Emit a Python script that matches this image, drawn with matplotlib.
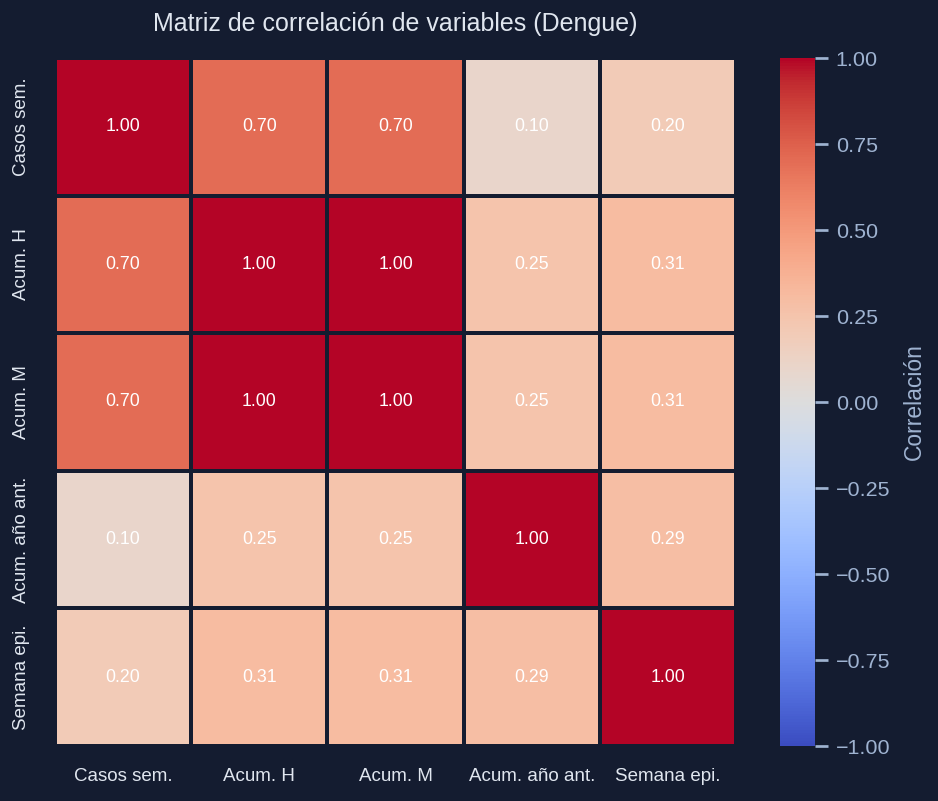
import numpy as np
import pandas as pd
import matplotlib
matplotlib.use("Agg")
import matplotlib.pyplot as plt
import seaborn as sns

labels = ["Casos sem.", "Acum. H", "Acum. M", "Acum. año ant.", "Semana epi."]
row_casos = [1.00, 0.70, 0.70, 0.10, 0.20]
row_acum_h = [0.70, 1.00, 1.00, 0.25, 0.31]
row_acum_m = [0.70, 1.00, 1.00, 0.25, 0.31]
row_acum_ant = [0.10, 0.25, 0.25, 1.00, 0.29]
row_semana = [0.20, 0.31, 0.31, 0.29, 1.00]

corr = pd.DataFrame([row_casos, row_acum_h, row_acum_m, row_acum_ant, row_semana],
                    index=labels, columns=labels)

bg = "#141c30"
txt = "#e0e6ef"
cbar_txt = "#9fb3d1"

plt.rcParams["font.family"] = ["Liberation Sans", "DejaVu Sans"]

dpi = 150
fig = plt.figure(figsize=(938 / dpi, 801 / dpi), dpi=dpi, facecolor=bg)
W, H = 938, 801
ax = fig.add_axes([55 / W, (H - 746) / H, 681 / W, 688 / H])
cax = fig.add_axes([780 / W, (H - 746) / H, 35 / W, 688 / H])
ax.set_facecolor(bg)

sns.heatmap(corr, ax=ax, cbar_ax=cax, cmap="coolwarm", vmin=-1, vmax=1,
            annot=True, fmt=".2f", annot_kws={"size": 8.5, "color": "white"},
            linewidths=1, linecolor=bg,
            cbar_kws={"label": "Correlación"})

ax.tick_params(axis="x", length=0, pad=10.5, labelsize=9, colors=txt, labelrotation=0)
ax.tick_params(axis="y", length=0, pad=12, labelsize=9, colors=txt, labelrotation=90)
for t in ax.get_yticklabels():
    t.set_va("center")

cax.tick_params(length=6, width=1.3, color=cbar_txt, labelcolor=cbar_txt,
                labelsize=10.3, pad=4)
cax.set_yticks([-1, -0.75, -0.5, -0.25, 0, 0.25, 0.5, 0.75, 1])
cax.set_ylabel("Correlación", color=cbar_txt, fontsize=11, labelpad=6)
for s in cax.spines.values():
    s.set_visible(False)

fig.text(395 / W, 1 - 24 / H, "Matriz de correlación de variables (Dengue)",
         ha="center", va="center", color=txt, fontsize=12)

fig.savefig("out.png", dpi=dpi, facecolor=bg)
